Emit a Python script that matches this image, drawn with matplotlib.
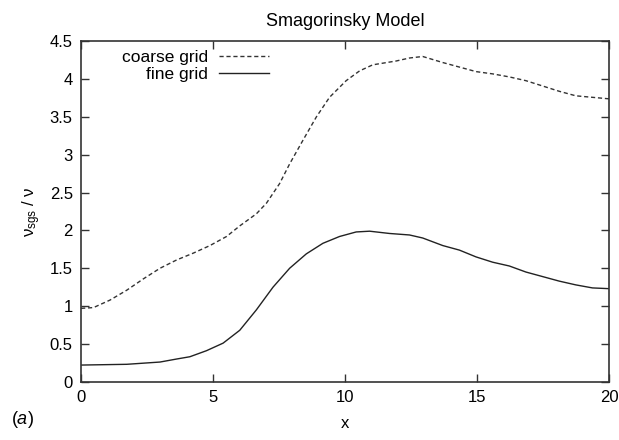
import matplotlib
matplotlib.use("Agg")
import matplotlib.pyplot as plt

plt.rcParams['font.family'] = ['Liberation Sans', 'DejaVu Sans']
plt.rcParams['mathtext.fontset'] = 'custom'
plt.rcParams['mathtext.rm'] = 'Liberation Sans'
plt.rcParams['mathtext.it'] = 'Liberation Sans:italic'

coarse_x = [0, 0.47, 1.1, 1.73, 2.36, 2.99, 3.62, 4.25, 4.88, 5.51, 6.01, 6.64,
            7.02, 7.52, 7.9, 8.4, 8.91, 9.41, 10.04, 10.55, 11.05, 11.93,
            12.44, 12.94, 13.7, 14.33, 14.96, 15.59, 16.22, 16.85, 17.48,
            18.11, 18.74, 19.37, 20]
coarse_y = [0.97, 0.98, 1.08, 1.21, 1.36, 1.50, 1.61, 1.70, 1.80, 1.92, 2.06, 2.22,
            2.36, 2.62, 2.88, 3.19, 3.50, 3.76, 3.98, 4.11, 4.19, 4.24,
            4.28, 4.30, 4.22, 4.16, 4.10, 4.07, 4.03, 3.98, 3.91,
            3.84, 3.78, 3.76, 3.74]

fine_x = [0, 1.73, 2.99, 3.62, 4.12, 4.75, 5.38, 6.01, 6.64, 7.27, 7.9, 8.53,
          9.16, 9.79, 10.42, 10.93, 11.68, 12.44, 12.94, 13.7, 14.33, 14.96,
          15.59, 16.22, 16.85, 17.48, 18.11, 18.74, 19.37, 20]
fine_y = [0.22, 0.23, 0.26, 0.30, 0.33, 0.41, 0.51, 0.68, 0.95, 1.25, 1.50, 1.69,
          1.83, 1.92, 1.98, 1.99, 1.96, 1.94, 1.90, 1.80, 1.74, 1.65,
          1.58, 1.53, 1.45, 1.39, 1.33, 1.28, 1.24, 1.23]

xticks = [0, 5, 10, 15, 20]
yticks = [0, 0.5, 1, 1.5, 2, 2.5, 3, 3.5, 4, 4.5]
ytick_labels = ['0', '0.5', '1', '1.5', '2', '2.5', '3', '3.5', '4', '4.5']

fig = plt.figure(figsize=(6.19, 4.40), dpi=100)
ax = fig.add_axes([0.131, 0.1325, 0.853, 0.7735])

ax.plot(coarse_x, coarse_y, color='#333333', lw=1.0, ls=(0, (3, 2)), label='coarse grid')
ax.plot(fine_x, fine_y, color='#222222', lw=1.0, ls='-', label='fine grid')

ax.set_xlim(0, 20)
ax.set_ylim(0, 4.5)
ax.set_xticks(xticks)
ax.set_yticks(yticks)
ax.set_yticklabels(ytick_labels)
ax.tick_params(direction='in', top=True, right=True, length=6, width=1,
               labelsize=12, pad=6, color='#333333')
for s in ax.spines.values():
    s.set_linewidth(1.2)
    s.set_color('#333333')

ax.set_title('Smagorinsky Model', fontsize=13, pad=11)
ax.set_xlabel('x', fontsize=12, labelpad=8)
ax.set_ylabel(r'ν$_{\mathregular{sgs}}$ / ν', fontsize=12, labelpad=5)

leg = ax.legend(loc='upper right', bbox_to_anchor=(0.356, 0.976), frameon=False,
                markerfirst=False, fontsize=12.5, handlelength=2.9,
                handletextpad=0.6, labelspacing=0.12, borderaxespad=0.0,
                borderpad=0.0)

fig.text(0.018, 0.022, r'($\mathit{a}$)', fontsize=13, ha='left', va='bottom')

fig.savefig('out.png', dpi=100)
